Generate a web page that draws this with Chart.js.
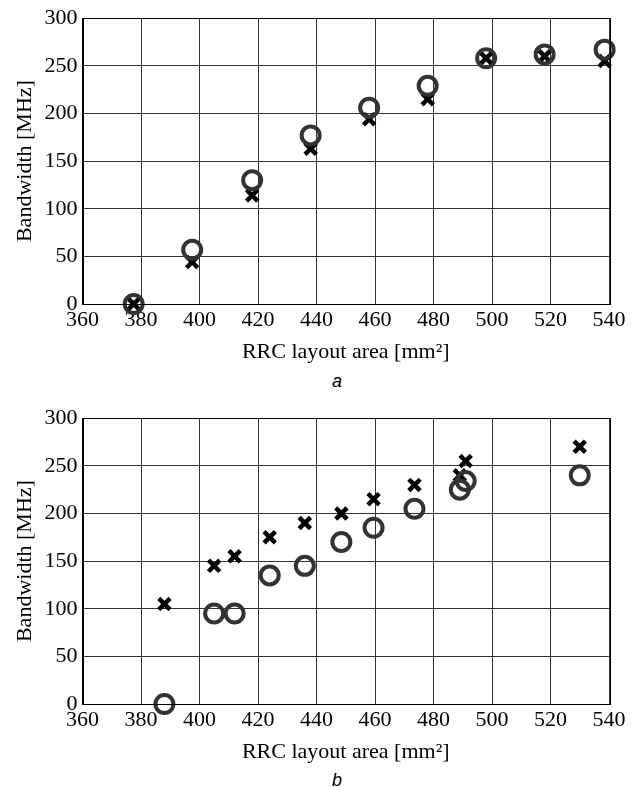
<!DOCTYPE html>
<html>
<head>
<meta charset="utf-8">
<script src="https://cdn.jsdelivr.net/npm/chart.js@4.4.1/dist/chart.umd.min.js"></script>
<style>
  html, body { margin: 0; padding: 0; background: #fff; }
  body { width: 640px; height: 787px; position: relative; overflow: hidden; }
  .wrap { position: absolute; left: 0; width: 640px; height: 365px; }
  .cap { position: absolute; font-family: "Liberation Sans", Arial, sans-serif; font-style: italic; font-size: 18px; color: #000; transform: translate(-50%, -50%); }
</style>
</head>
<body>
<div class="wrap" style="top:0px"><canvas id="chartA" width="640" height="365"></canvas></div>
<div class="cap" style="left:337px; top:381px">a</div>
<div class="wrap" style="top:399.5px"><canvas id="chartB" width="640" height="365"></canvas></div>
<div class="cap" style="left:337px; top:780px">b</div>
<script>
// ---- data (a) ----
const areaA = [377.5, 397.5, 418, 438, 458, 478, 498, 518, 538.5];
const circleA = [0, 57, 130, 177, 206, 229, 258, 262, 267];
const crossA = [0, 44, 114, 163, 194, 215, 258, 260, 255];
// ---- data (b) ----
const areaB = [388, 405, 412, 424, 436, 448.5, 459.5, 473.5, 489, 491, 530];
const circleB = [0, 95, 95, 135, 145, 170, 185, 205, 225, 234, 240];
const crossB = [105, 145, 155, 175, 190, 200, 215, 230, 240, 255, 270];
// ---- axes ----
const xTicks = [360, 380, 400, 420, 440, 460, 480, 500, 520, 540];
const yTicks = [0, 50, 100, 150, 200, 250, 300];
const xTitle = 'RRC layout area [mm\u00B2]';
const yTitle = 'Bandwidth [MHz]';

const FONT = '"Liberation Serif", "Times New Roman", serif';

const frame = {
  id: 'frame',
  afterDraw(chart) {
    const {ctx, chartArea: a} = chart;
    ctx.save();
    ctx.strokeStyle = '#000';
    ctx.lineWidth = 1;
    ctx.strokeRect(Math.round(a.left) + 0.5, Math.round(a.top) + 0.5,
                   Math.round(a.right - a.left), Math.round(a.bottom - a.top));
    ctx.restore();
  }
};

function makeChart(id, xs, circ, cross) {
  const pts = (ys) => xs.map((x, i) => ({x: x, y: ys[i]}));
  return new Chart(document.getElementById(id), {
    type: 'scatter',
    data: {
      datasets: [
        {
          label: 'circle',
          data: pts(circ),
          pointStyle: 'circle',
          pointRadius: 9,
          pointHoverRadius: 9,
          borderWidth: 4,
          pointBorderWidth: 4,
          borderColor: '#333333',
          backgroundColor: 'rgba(0,0,0,0)',
          clip: false
        },
        {
          label: 'cross',
          data: pts(cross),
          pointStyle: 'crossRot',
          pointRadius: 8,
          pointHoverRadius: 8,
          borderWidth: 4.5,
          pointBorderWidth: 4.5,
          borderColor: '#000000',
          backgroundColor: '#000000',
          clip: false
        }
      ]
    },
    options: {
      responsive: false,
      animation: false,
      devicePixelRatio: 1,
      layout: { padding: { top: 16.5, right: 31, left: 0, bottom: 0 } },
      plugins: { legend: { display: false }, tooltip: { enabled: false } },
      scales: {
        x: {
          type: 'linear',
          min: 360, max: 540,
          afterBuildTicks(scale) { scale.ticks = xTicks.map(v => ({value: v})); },
          afterFit(scale) { scale.height = 61; },
          ticks: { color: '#000', font: { family: FONT, size: 22 }, padding: 3, maxRotation: 0, autoSkip: false },
          grid: { color: '#333', lineWidth: 1, drawTicks: false },
          border: { display: true, color: '#000', width: 1 },
          title: { display: true, text: xTitle, color: '#000', font: { family: FONT, size: 22 }, padding: { top: 0, bottom: 0 } }
        },
        y: {
          type: 'linear',
          min: 0, max: 300,
          afterBuildTicks(scale) { scale.ticks = yTicks.map(v => ({value: v})); },
          afterFit(scale) { scale.width = 82.5; },
          ticks: { color: '#000', font: { family: FONT, size: 22 }, padding: 5, autoSkip: false },
          grid: { color: '#333', lineWidth: 1, drawTicks: false },
          border: { display: true, color: '#000', width: 1 },
          title: { display: true, text: yTitle, color: '#000', font: { family: FONT, size: 22 }, padding: { top: 12, bottom: 0 } }
        }
      }
    },
    plugins: [frame]
  });
}

makeChart('chartA', areaA, circleA, crossA);
makeChart('chartB', areaB, circleB, crossB);
</script>
</body>
</html>
